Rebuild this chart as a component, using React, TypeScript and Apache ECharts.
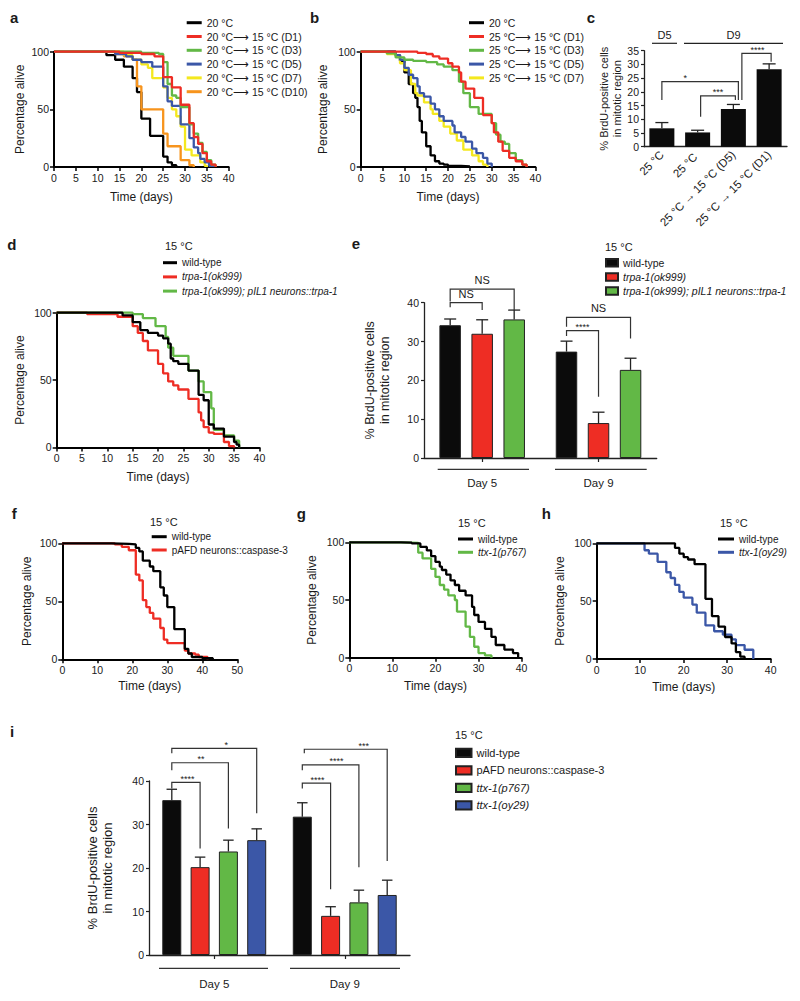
import React, { useEffect, useRef } from "react";
import * as echarts from "echarts";

const FONT = "'Liberation Sans', Arial, Helvetica, sans-serif";
const INK = "#1a1a1a";
const C_BLACK = "#000000";
const C_RED = "#ee2d24";
const C_GREEN = "#62b846";
const C_BLUE = "#3b57a7";
const C_YELLOW = "#f4e81e";
const C_ORANGE = "#f7941d";

// ---------- panel a (survival, 20 °C shifts)
const aNames = ["20 °C", "20 °C⟶ 15 °C (D1)", "20 °C⟶ 15 °C (D3)", "20 °C⟶ 15 °C (D5)", "20 °C⟶ 15 °C (D7)", "20 °C⟶ 15 °C (D10)"];
const a20 = [[0,100],[12,97],[14,93],[16,87],[18,77],[19,65],[20,42],[22,27],[25,9],[26,4],[27,1.5],[28,0]];
const aD1 = [[0,100],[15,99],[20,98],[23,96],[25,78],[27,69],[29,54],[31,38],[32,26],[33,20],[34,12],[35,5],[36,2],[37,0]];
const aD3 = [[0,100],[20,99],[24,98],[25,91],[26,72],[27,62],[28,60],[29,52],[31,37],[32,29],[33,21],[34,13],[35,6],[36,2],[37,0]];
const aD5 = [[0,100],[14,98],[16.5,96],[18,93],[20,91],[22.5,87],[25,70],[26,57],[27,53],[29,37],[31,25],[32,17],[33,12],[33.5,7],[34.5,4],[35.5,1],[36.5,0]];
const aD7 = [[0,100],[16,97],[18,93],[20,89],[21.5,86],[22.5,77],[25,69],[26,60],[27,50],[28,44],[29,35],[30,15],[31.5,10],[33.5,4],[34.5,1],[35,0]];
const aD10 = [[0,100],[14,98],[16,96],[18,93],[19,70],[20,50],[25,29],[26,18],[29,6],[31,1.5],[32,0]];

// ---------- panel b (survival, 25 °C shifts)
const bNames = ["20 °C", "25 °C⟶ 15 °C (D1)", "25 °C⟶ 15 °C (D3)", "25 °C⟶ 15 °C (D5)", "25 °C⟶ 15 °C (D7)"];
const b20 = [[0,100],[8,97],[9,92],[10,82],[11,72],[12,64],[12.5,60],[13,52],[13.5,40],[14,30],[15,18],[16,10],[17,5],[18,3],[19,2],[20,1],[23,0.5],[25,0]];
const bD1 = [[0,100],[10,100],[13,99],[15,98],[16.5,96],[18,94],[20,90],[21,87],[22.5,82],[23,74],[24,68],[26,60],[28,45],[30,38],[30.5,30],[31.5,22],[32.5,14],[34,8],[35.5,5],[37,2],[38,0]];
const bD3 = [[0,100],[6,98.5],[8,95],[10,93],[12,92],[15,91],[17.5,89],[19,87],[21,84],[22.5,74],[23.5,64],[25,52],[27,46],[29,46],[30,38],[31,28],[32,22],[33,20],[34,12],[35.5,6],[37,2],[38,0]];
const bD5 = [[0,100],[8,97],[9,93],[10,86],[11,80],[12,77],[13,70],[13.5,64],[14.5,61],[16,55],[17,50],[18,44],[19,40],[21,36],[21.5,30],[23,26],[24,22],[25.5,16],[26.5,12],[28,8],[29,3],[30,0]];
const bD7 = [[0,100],[6,98],[8,96],[9,90],[10,84],[11.5,72],[12.5,64],[13,62],[14.5,56],[16,50],[16.5,46],[18,40],[19,35],[20.5,29],[22,23],[23.5,15],[25.5,10],[27,5],[28,2],[29,0]];

// ---------- panel c (BrdU, 25 °C)
const cCats = ["25 °C", "25 °C ", "25 °C → 15 °C (D5)", "25 °C → 15 °C (D1)"];
const cVals = [6.7, 5.2, 13.7, 28.2];
const cErr = [8.8, 6.0, 15.4, 30.2];
const cSig = ["*", "***", "****"];
// [cat1, ser1, cat2, ser2, yLeft, yTop, yRight, dx1, dx2, labelDx]
const cBrackets = [
  [0, 0, 2, 0, 17.0, 23.7, 17.0, 0, 5, -15],
  [1, 0, 2, 0, 10.9, 18.5, 17.0, 3, 2, 0],
  [2, 0, 3, 0, 17.0, 34.0, 31.0, 8.5, 2, 1],
];

// ---------- panel d (survival, trpa-1)
const dNames = ["wild-type", "trpa-1(ok999)", "trpa-1(ok999); pIL1 neurons::trpa-1"];
const dWT = [[0,100],[13,98],[15,93],[16.5,87],[18,85],[20,83],[21,81],[22,77],[22.5,66],[23,64],[24,62],[26,57],[28,39],[29,35],[30,17],[31,14],[33,8],[35,4],[35.5,2],[36,0]];
const dTrpa = [[0,100],[6,99],[12,97],[15,90],[16,85],[17,79],[18,72],[20,62],[21,55],[22,49],[23,46],[24,43],[26,36],[28,26],[28.5,20],[29,15],[30,11],[31,10],[33,4],[34,1],[35,0]];
const dRescue = [[0,100],[15,99],[17,96],[19.5,90],[21.5,82],[22,74],[23,68],[26,57],[28,49],[29,41],[30.5,29],[31,13],[33,9],[35,5],[36,0]];

// ---------- panel e (BrdU, trpa-1)
const eCats = ["Day 5", "Day 9"];
const eWT = [34.2, 27.4];
const eTrpa = [32.0, 9.0];
const eRescue = [35.7, 22.7];
const eWTErr = [35.8, 30.1];
const eTrpaErr = [35.6, 11.8];
const eRescueErr = [38.1, 25.7];
const eSig = ["NS", "NS", "NS", "****"];
const eBrackets = [
  [0, 0, 0, 2, 40.3, 43.5, 38.1, 0, 0, 0],
  [0, 0, 0, 1, 38.8, 40.0, 38.1, 0, 0, 0],
  [1, 0, 1, 2, 33.8, 36.2, 30.8, 0, 0, 0],
  [1, 0, 1, 1, 31.4, 32.8, 15.8, 0, 0, 0],
];

// ---------- panel f, g, h (survival)
const fNames = ["wild-type", "pAFD neurons::caspase-3"];
const fWT = [[0,100],[14,99.5],[19,99],[21,96],[22,93],[23,85],[25,80],[26,76],[28,62],[29,55],[30,45],[32,26],[35,9],[36,5],[37,2],[40,1],[43,0]];
const fCasp = [[0,100],[15,99],[17,97],[19,94],[21,73],[22,68],[23,51],[24,45],[25,40],[26,35],[28,27],[29,17],[30,14],[35,7.5],[36,5],[38,4],[39,2],[41.5,0]];
const gNames = ["wild-type", "ttx-1(p767)"];
const gWT = [[0,100],[12,99.7],[14.5,99],[16.5,96],[18,93],[19,88],[20,83],[21,79],[21.5,76],[22.5,72],[23.5,67],[24.5,63],[25.5,58],[27,54],[28.5,44],[29,37],[30,31],[31.5,25],[33,18],[34,11],[36,7],[38,4],[39.2,0]];
const gP767 = [[0,100],[12,99.5],[16,91],[17,86],[19,77],[20,70],[21,63],[22,59],[23,54],[24.5,50],[25,40],[27,27],[28,18],[29,9.5],[30,4],[31.5,2],[33,0]];
const hNames = ["wild-type", "ttx-1(oy29)"];
const hWT = [[0,100],[18,96],[19,91],[20,88],[21,86],[22.5,82],[25,52],[26.5,37],[28,28],[29.5,19],[31,13.5],[32,6],[33,2],[34,0]];
const hOy29 = [[0,100],[11,94],[12,91],[14,84],[16,75],[17,70],[18,64],[19,58],[20,53],[22,47],[23,40],[25,29],[27,24],[29,21],[31,17],[32,12],[34,8],[36,0]];

// ---------- panel i (BrdU, AFD / ttx-1)
const iCats = ["Day 5", "Day 9"];
const iNames = ["wild-type", "pAFD neurons::caspase-3", "ttx-1(p767)", "ttx-1(oy29)"];
const iWT = [35.6, 31.8];
const iCasp = [20.2, 9.0];
const iP767 = [23.8, 12.1];
const iOy29 = [26.4, 13.8];
const iWTErr = [38.1, 35.0];
const iCaspErr = [22.5, 11.1];
const iP767Err = [26.4, 14.9];
const iOy29Err = [29.0, 17.2];
const iSig = ["****", "**", "*", "****", "****", "***"];
const iBrackets = [
  [0, 0, 0, 1, 38.3, 39.7, 24.5, 0, 0, 1.5],
  [0, 0, 0, 2, 42.5, 44.2, 29.1, 0, 0, 1],
  [0, 0, 0, 3, 46.4, 47.5, 32.6, 0, 0, 12],
  [1, 0, 1, 1, 38.3, 39.5, 15.1, 0, 0, 1],
  [1, 0, 1, 2, 42.5, 43.7, 20.2, 0, 0, 6],
  [1, 0, 1, 3, 46.4, 47.3, 21.6, 2, 0, 18],
];

// ---------- helpers
const grids = [
  { left: 54, top: 51.7, width: 174.7, height: 115.3 },   // a
  { left: 360.7, top: 51.7, width: 174.7, height: 115.3 }, // b
  { left: 644, top: 50.7, width: 143, height: 96 },         // c
  { left: 56.7, top: 312.7, width: 202.7, height: 134.7 },  // d
  { left: 424, top: 302.7, width: 232.7, height: 155.3 },   // e
  { left: 62.3, top: 543.3, width: 175, height: 116 },      // f
  { left: 349.3, top: 542.3, width: 172.3, height: 115.4 }, // g
  { left: 596.7, top: 543.3, width: 174, height: 115.7 },   // h
  { left: 149, top: 781, width: 261, height: 174 },         // i
];

function kmX(gi: number, max: number, interval: number, gap: number) {
  return {
    type: "value", gridIndex: gi, min: 0, max, interval,
    name: "Time (days)", nameLocation: "middle", nameGap: gap,
    nameTextStyle: { fontFamily: FONT, fontSize: 12, color: INK },
    axisLine: { show: true, onZero: false, lineStyle: { color: "#000", width: 2 } },
    axisTick: { show: true, length: 4, lineStyle: { color: "#000", width: 1.5 } },
    axisLabel: { fontFamily: FONT, fontSize: 10.5, color: INK, margin: 5 },
    splitLine: { show: false },
  };
}
function kmY(gi: number, gap: number) {
  return {
    type: "value", gridIndex: gi, min: 0, max: 100, interval: 50,
    name: "Percentage alive", nameLocation: "middle", nameRotate: 90, nameGap: gap,
    nameTextStyle: { fontFamily: FONT, fontSize: 12, color: INK },
    axisLine: { show: true, onZero: false, lineStyle: { color: "#000", width: 2 } },
    axisTick: { show: true, length: 4, lineStyle: { color: "#000", width: 1.5 } },
    axisLabel: { fontFamily: FONT, fontSize: 10.5, color: INK, margin: 5 },
    splitLine: { show: false },
  };
}
function km(name: string, data: number[][], color: string, gi: number, z = 2) {
  return {
    type: "line", name, xAxisIndex: gi, yAxisIndex: gi, data, step: "end",
    symbol: "none", showSymbol: false, clip: false, silent: true, z,
    lineStyle: { color, width: 2.3 }, itemStyle: { color },
  };
}
function barX(gi: number, cats: string[], extra: any) {
  return {
    type: "category", gridIndex: gi, data: cats,
    axisLine: { show: true, lineStyle: { color: "#222", width: 1.3 } },
    splitLine: { show: false },
    ...extra,
  };
}
function barY(gi: number, max: number, interval: number, gap: number, nameSize: number) {
  return {
    type: "value", gridIndex: gi, min: 0, max, interval,
    name: "% BrdU-positive cells\nin mitotic region", nameLocation: "middle", nameRotate: 90, nameGap: gap,
    nameTextStyle: { fontFamily: FONT, fontSize: nameSize, color: INK, lineHeight: nameSize * 1.15 },
    axisLine: { show: true, lineStyle: { color: "#222", width: 1.3 } },
    axisTick: { show: true, length: 3, lineStyle: { color: "#222", width: 1.2 } },
    axisLabel: { fontFamily: FONT, fontSize: 10.5, color: INK, margin: 5 },
    splitLine: { show: false },
  };
}
function bar(name: string, data: number[], color: string, gi: number, bw: number, border: boolean) {
  return {
    type: "bar", name, xAxisIndex: gi, yAxisIndex: gi, data, barWidth: bw, barGap: "49%", silent: true,
    itemStyle: { color, borderColor: border ? "#222" : color, borderWidth: border ? 1 : 0 },
  };
}
function errBars(gi: number, vals: number[], errs: number[], off: number, cap: number) {
  return {
    type: "custom", xAxisIndex: gi, yAxisIndex: gi, silent: true, clip: false, z: 4,
    data: vals.map((v, k) => [k, v, errs[k]]),
    renderItem: (_p: any, api: any) => {
      const base = api.coord([api.value(0), api.value(1)]);
      const top = api.coord([api.value(0), api.value(2)]);
      const x = base[0] + off;
      const st = { stroke: "#222", lineWidth: 1.3 };
      return {
        type: "group",
        children: [
          { type: "line", shape: { x1: x, y1: base[1], x2: x, y2: top[1] }, style: st },
          { type: "line", shape: { x1: x - cap / 2, y1: top[1], x2: x + cap / 2, y2: top[1] }, style: st },
        ],
      };
    },
  };
}
function brackets(gi: number, rows: number[][], labels: string[], n: number, step: number) {
  const off = (s: number) => (s - (n - 1) / 2) * step;
  return {
    type: "custom", xAxisIndex: gi, yAxisIndex: gi, silent: true, clip: false, z: 5,
    data: rows,
    renderItem: (p: any, api: any) => {
      const x1 = api.coord([api.value(0), 0])[0] + off(api.value(1)) + api.value(7);
      const x2 = api.coord([api.value(2), 0])[0] + off(api.value(3)) + api.value(8);
      const yL = api.coord([api.value(0), api.value(4)])[1];
      const yT = api.coord([api.value(0), api.value(5)])[1];
      const yR = api.coord([api.value(0), api.value(6)])[1];
      const lab = labels[p.dataIndex];
      const isNS = lab === "NS";
      const lx = (x1 + x2) / 2 + api.value(9);
      const ly = isNS ? yT - 9 : yT - 3.5;
      return {
        type: "group",
        children: [
          { type: "polyline", shape: { points: [[x1, yL], [x1, yT], [x2, yT], [x2, yR]] }, style: { stroke: "#333", lineWidth: 1.2, fill: "none" } },
          {
            type: "text", x: lx, y: ly,
            style: {
              text: lab, fill: INK, font: isNS ? `11px ${FONT}` : `9px ${FONT}`,
              align: "center", verticalAlign: "middle", textAlign: "center", textVerticalAlign: "middle",
            },
          },
        ],
      };
    },
  };
}
function legend(prefix: string, names: string[], left: number, top: number, gap: number, opts: any, italic: boolean[]) {
  return {
    orient: "vertical", left, top, padding: 0, itemGap: gap, selectedMode: false,
    icon: "rect",
    formatter: (n: string) => n.slice(prefix.length),
    data: names.map((n, k) => ({ name: prefix + n, textStyle: italic[k] ? { fontStyle: "italic" } : {} })),
    ...opts,
  };
}
function txt(text: string, x: number, y: number, font: string, align = "left") {
  return {
    type: "text", x, y, silent: true,
    style: { text, font, fill: INK, align, verticalAlign: "middle", textAlign: align, textVerticalAlign: "middle" },
  };
}
function ln(x1: number, y1: number, x2: number, y2: number, color = "#333", w = 1.2) {
  return { type: "line", silent: true, shape: { x1, y1, x2, y2 }, style: { stroke: color, lineWidth: w } };
}

export default function App() {
  const ref = useRef<HTMLDivElement>(null);
  useEffect(() => {
    if (!ref.current) return;
    const chart = echarts.init(ref.current, undefined, { renderer: "svg" });
    const kmText = { fontFamily: FONT, fontSize: 10.5, color: INK, lineHeight: 12 };
    const lineLeg = { itemWidth: 15, itemHeight: 3, textStyle: kmText };
    const option: any = {
      animation: false,
      backgroundColor: "#ffffff",
      textStyle: { fontFamily: FONT },
      grid: grids.map((g) => ({ ...g, containLabel: false })),
      xAxis: [
        kmX(0, 40, 5, 24),
        kmX(1, 40, 5, 24),
        barX(2, cCats, {
          axisTick: { show: false },
          axisLabel: { fontFamily: FONT, fontSize: 11.5, color: INK, rotate: 45, interval: 0, margin: 6 },
        }),
        kmX(3, 40, 5, 24),
        barX(4, eCats, {
          axisTick: { show: true, alignWithLabel: true, length: 4, lineStyle: { color: "#222", width: 1.2 } },
          axisLabel: { fontFamily: FONT, fontSize: 11.5, color: INK, margin: 18.5 },
        }),
        kmX(5, 50, 10, 21),
        kmX(6, 40, 10, 22.5),
        kmX(7, 40, 10, 21.5),
        barX(8, iCats, {
          axisTick: { show: true, alignWithLabel: true, length: 4, lineStyle: { color: "#222", width: 1.2 } },
          axisLabel: { fontFamily: FONT, fontSize: 11.5, color: INK, margin: 23 },
        }),
      ],
      yAxis: [
        kmY(0, 28),
        kmY(1, 32),
        barY(2, 35, 5, 20, 11),
        kmY(3, 31),
        barY(4, 40, 10, 32, 12.5),
        kmY(5, 29),
        kmY(6, 31),
        kmY(7, 31),
        barY(8, 40, 10, 34, 13),
      ],
      legend: [
        legend("a|", aNames, 186.7, 16.7, 1.8, lineLeg, [false, false, false, false, false, false]),
        legend("b|", bNames, 469, 16.7, 1.8, lineLeg, [false, false, false, false, false]),
        legend("d|", dNames, 163, 256.7, 2.2, { itemWidth: 14, itemHeight: 3, textStyle: { ...kmText, fontSize: 10 } }, [false, true, true]),
        legend("e|", dNames, 605, 256.7, 2.2, { itemWidth: 12, itemHeight: 7.5, textStyle: { ...kmText, fontSize: 10.5 } }, [false, true, true]),
        legend("f|", fNames, 151.7, 530.7, 1.3, { itemWidth: 15, itemHeight: 3, textStyle: { ...kmText, fontSize: 10 } }, [false, false]),
        legend("g|", gNames, 458, 533, 1.3, { itemWidth: 15, itemHeight: 3, textStyle: { ...kmText, fontSize: 10 } }, [false, true]),
        legend("h|", hNames, 718, 533, 1.3, { itemWidth: 16, itemHeight: 3, textStyle: { ...kmText, fontSize: 10 } }, [false, true]),
        legend("i|", iNames, 455, 746.7, 5.3, { itemWidth: 15.5, itemHeight: 8.3, textStyle: { fontFamily: FONT, fontSize: 11, color: INK, lineHeight: 12.2 } }, [false, false, true, true]),
      ],
      series: [
        // a
        km("a|" + aNames[0], a20, C_BLACK, 0, 3),
        km("a|" + aNames[5], aD10, C_ORANGE, 0, 3),
        km("a|" + aNames[4], aD7, C_YELLOW, 0, 3),
        km("a|" + aNames[3], aD5, C_BLUE, 0, 3),
        km("a|" + aNames[2], aD3, C_GREEN, 0, 3),
        km("a|" + aNames[1], aD1, C_RED, 0, 3),
        // b
        km("b|" + bNames[0], b20, C_BLACK, 1, 3),
        km("b|" + bNames[4], bD7, C_YELLOW, 1, 3),
        km("b|" + bNames[3], bD5, C_BLUE, 1, 3),
        km("b|" + bNames[2], bD3, C_GREEN, 1, 3),
        km("b|" + bNames[1], bD1, C_RED, 1, 3),
        // c
        bar("c|BrdU", cVals, "#0b0b0b", 2, 25, false),
        errBars(2, cVals, cErr, 0, 13),
        brackets(2, cBrackets, cSig, 1, 0),
        // d
        km("d|" + dNames[1], dTrpa, C_RED, 3, 3),
        km("d|" + dNames[2], dRescue, C_GREEN, 3, 3),
        km("d|" + dNames[0], dWT, C_BLACK, 3, 4),
        // e
        bar("e|" + dNames[0], eWT, "#0b0b0b", 4, 21.5, true),
        bar("e|" + dNames[1], eTrpa, C_RED, 4, 21.5, true),
        bar("e|" + dNames[2], eRescue, C_GREEN, 4, 21.5, true),
        errBars(4, eWT, eWTErr, -32.0, 12),
        errBars(4, eTrpa, eTrpaErr, 0, 12),
        errBars(4, eRescue, eRescueErr, 32.0, 12),
        brackets(4, eBrackets, eSig, 3, 32.0),
        // f
        km("f|" + fNames[1], fCasp, C_RED, 5, 3),
        km("f|" + fNames[0], fWT, C_BLACK, 5, 4),
        // g
        km("g|" + gNames[1], gP767, C_GREEN, 6, 3),
        km("g|" + gNames[0], gWT, C_BLACK, 6, 4),
        // h
        km("h|" + hNames[1], hOy29, C_BLUE, 7, 3),
        km("h|" + hNames[0], hWT, C_BLACK, 7, 4),
        // i
        bar("i|" + iNames[0], iWT, "#0b0b0b", 8, 19, true),
        bar("i|" + iNames[1], iCasp, C_RED, 8, 19, true),
        bar("i|" + iNames[2], iP767, C_GREEN, 8, 19, true),
        bar("i|" + iNames[3], iOy29, C_BLUE, 8, 19, true),
        errBars(8, iWT, iWTErr, -42.45, 10.5),
        errBars(8, iCasp, iCaspErr, -14.15, 10.5),
        errBars(8, iP767, iP767Err, 14.15, 10.5),
        errBars(8, iOy29, iOy29Err, 42.45, 10.5),
        brackets(8, iBrackets, iSig, 4, 28.3),
      ],
      graphic: {
        elements: [
          txt("a", 10, 17, `bold 15px ${FONT}`),
          txt("b", 310, 17, `bold 15px ${FONT}`),
          txt("c", 586.7, 17, `bold 15px ${FONT}`),
          txt("d", 7.3, 244, `bold 15px ${FONT}`),
          txt("e", 351.7, 243.3, `bold 15px ${FONT}`),
          txt("f", 11.7, 513.3, `bold 15px ${FONT}`),
          txt("g", 296.7, 513.5, `bold 15px ${FONT}`),
          txt("h", 541.7, 513.3, `bold 15px ${FONT}`),
          txt("i", 10, 731, `bold 15px ${FONT}`),
          txt("15 °C", 165, 246, `11px ${FONT}`),
          txt("15 °C", 605, 246.7, `11px ${FONT}`),
          txt("15 °C", 150, 521.7, `11px ${FONT}`),
          txt("15 °C", 458, 522.7, `11px ${FONT}`),
          txt("15 °C", 720, 522.7, `11px ${FONT}`),
          txt("15 °C", 455, 735, `11px ${FONT}`),
          txt("D5", 664.5, 35, `11px ${FONT}`, "center"),
          txt("D9", 733.5, 35, `11px ${FONT}`, "center"),
          ln(652, 43.3, 677, 43.3, "#222", 1.2),
          ln(684, 43.3, 783, 43.3, "#222", 1.2),
          ln(437.7, 469.3, 529, 469.3),
          ln(555, 469.3, 646.7, 469.3),
          ln(159, 968.3, 268, 968.3),
          ln(290, 968.3, 400, 968.3),
        ],
      },
    };
    chart.setOption(option);
    return () => chart.dispose();
  }, []);
  return <div ref={ref} style={{ position: "absolute", left: 0, top: 0, width: 800, height: 1001, background: "#fff" }} />;
}
